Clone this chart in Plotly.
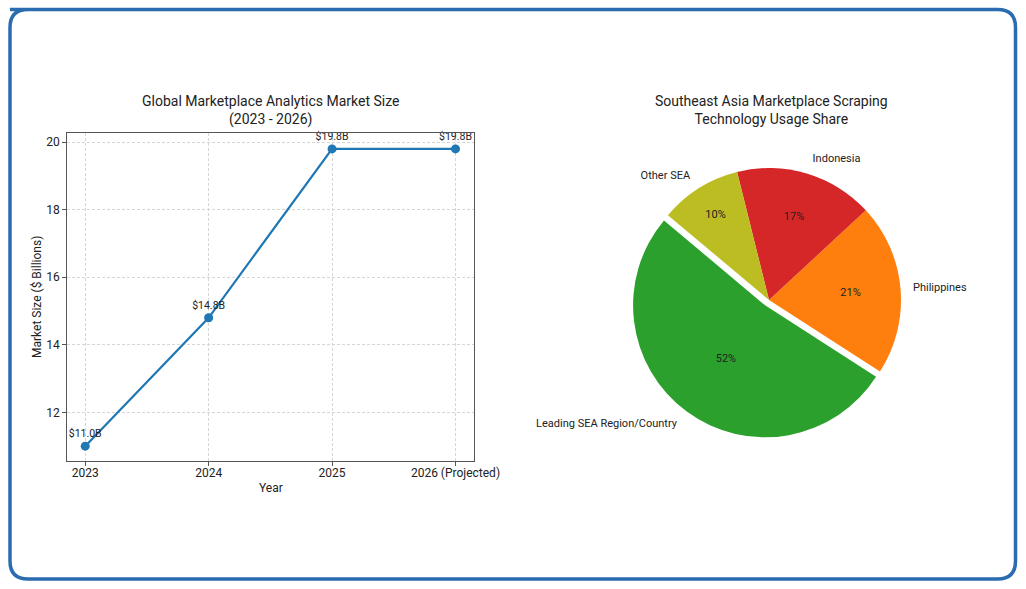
import plotly.graph_objects as go

# ---- data ----
years = ["2023", "2024", "2025", "2026 (Projected)"]
market_size = [11.0, 14.8, 19.8, 19.8]
market_labels = ["$11.0B", "$14.8B", "$19.8B", "$19.8B"]

regions = ["Leading SEA Region/Country", "Philippines", "Indonesia", "Other SEA"]
shares = [52, 21, 17, 10]
region_colors = ["#2ca02c", "#ff7f0e", "#d62728", "#bcbd22"]
pulls = [0.05, 0, 0, 0]
start_angle = 140  # counter-clockwise start of first slice (math degrees)

FONT = "Roboto"
W, H = 1026, 589

# plotly's counter-clockwise pies place 'rotation' at the end of the first slice
rotation = 90 - start_angle - 360 * shares[0] / sum(shares)

fig = go.Figure()

fig.add_trace(go.Scatter(
    x=years, y=market_size, mode="lines+markers+text",
    text=market_labels, textposition="top center",
    textfont=dict(family=FONT, size=10.5, color="#222"),
    line=dict(color="#1f77b4", width=2.2),
    marker=dict(color="#1f77b4", size=9),
    cliponaxis=False, showlegend=False, hoverinfo="x+y",
))

# pie placement (pixels)
cx, cy, half = 769.0, 300.0, 138.6
pie_domain = dict(x=[(cx - half) / W, (cx + half) / W],
                  y=[1 - (cy + half) / H, 1 - (cy - half) / H])
lab_half = half * 1.07
label_domain = dict(x=[(cx - lab_half) / W, (cx + lab_half) / W],
                    y=[1 - (cy + lab_half) / H, 1 - (cy - lab_half) / H])

fig.add_trace(go.Pie(
    labels=regions, values=shares, sort=False,
    direction="counterclockwise", rotation=rotation,
    pull=pulls, domain=pie_domain,
    marker=dict(colors=region_colors, line=dict(width=0)),
    texttemplate="%{percent:.0%}", textposition="inside",
    insidetextorientation="horizontal",
    textfont=dict(family=FONT, size=11, color="#222"),
    showlegend=False,
))
fig.add_trace(go.Pie(
    labels=regions, values=shares, sort=False,
    direction="counterclockwise", rotation=rotation,
    pull=pulls, domain=label_domain,
    marker=dict(colors=["rgba(0,0,0,0)"] * 4, line=dict(width=0)),
    texttemplate="%{label}", textposition="outside",
    outsidetextfont=dict(family=FONT, size=11, color="#222"),
    showlegend=False, hoverinfo="skip",
))

axis_common = dict(
    showline=True, mirror=True, linecolor="#555", linewidth=1,
    ticks="outside", ticklen=3.5, tickcolor="#555", automargin=False,
    showgrid=True, gridcolor="#d6d6d6", griddash="3px,2px", gridwidth=0.8,
    zeroline=False, tickfont=dict(family=FONT, size=12, color="#222"),
)

fig.update_layout(
    width=W, height=H, autosize=False,
    margin=dict(l=0, r=0, t=0, b=0, autoexpand=False),
    paper_bgcolor="white", plot_bgcolor="white",
    font=dict(family=FONT, color="#222"),
    xaxis=dict(domain=[66.7 / W, 474 / W], range=[-0.15, 3.15], type="category",
               ticklabelstandoff=-3, **axis_common),
    yaxis=dict(domain=[128 / H, 456.3 / H], range=[10.56, 20.28],
               tickvals=[12, 14, 16, 18, 20],
               **axis_common),
    annotations=[
        dict(text="Global Marketplace Analytics Market Size<br>(2023 - 2026)",
             x=270.5 / W, y=1 - 91 / H, xref="paper", yref="paper",
             xanchor="center", yanchor="top", showarrow=False,
             font=dict(family=FONT, size=14, color="#222")),
        dict(text="Southeast Asia Marketplace Scraping<br>Technology Usage Share",
             x=771 / W, y=1 - 91 / H, xref="paper", yref="paper",
             xanchor="center", yanchor="top", showarrow=False,
             font=dict(family=FONT, size=14, color="#222")),
        dict(text="Year", x=270.5 / W, y=1 - 487.5 / H, xref="paper", yref="paper",
             xanchor="center", yanchor="middle", showarrow=False,
             font=dict(family=FONT, size=12, color="#222")),
        dict(text="Market Size ($ Billions)", x=37 / W, y=1 - 297 / H,
             xref="paper", yref="paper", textangle=-90,
             xanchor="center", yanchor="middle", showarrow=False,
             font=dict(family=FONT, size=12, color="#222")),
    ],
    shapes=[
        dict(type="path", xref="paper", yref="paper",
             path=("M {l},{t0} L {r0},{t0} Q {r},{t0} {r},{t1} L {r},{b1} Q {r},{b} {r0},{b} "
                   "L {l0},{b} Q {l},{b} {l},{b1} L {l},{t1} Q {l},{t0} {l0},{t0} Z").format(
                 l=10 / W, l0=28 / W, r=1015.5 / W, r0=997.5 / W,
                 t0=1 - 9.5 / H, t1=1 - 27.5 / H, b=1 - 579 / H, b1=1 - 561 / H),
             line=dict(color="#2b6cb0", width=3.5)),
    ],
)

fig.write_html("out.html", config={"responsive": False})
